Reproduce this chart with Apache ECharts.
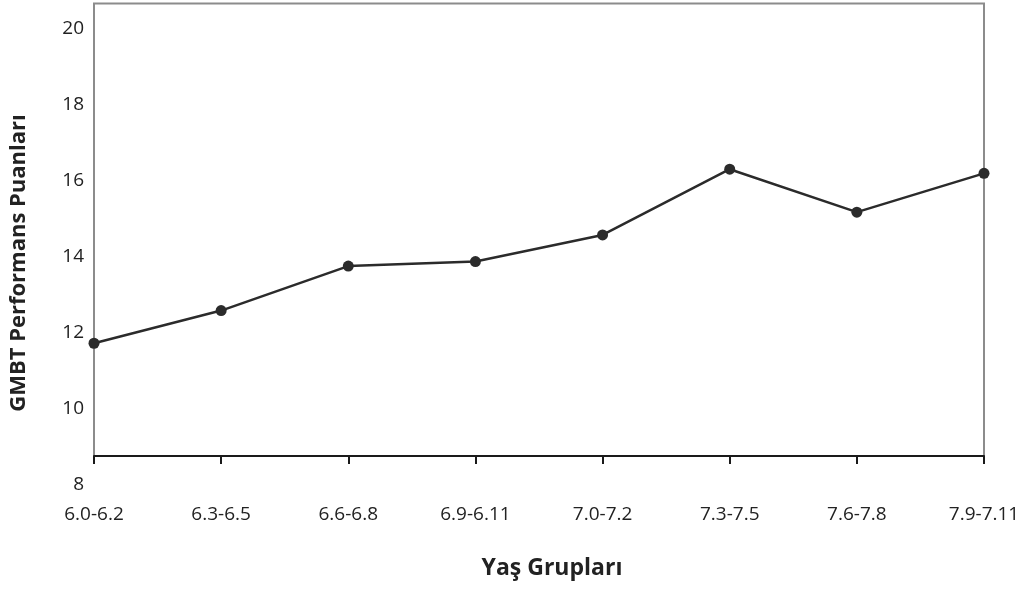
<!DOCTYPE html>
<html>
<head>
<meta charset="utf-8">
<script src="https://cdn.jsdelivr.net/npm/echarts@6/dist/echarts.min.js"></script>
<style>
html,body{margin:0;padding:0;background:#fff;}
#chart{width:1020px;height:589px;}
</style>
</head>
<body>
<div id="chart"></div>
<script>
const categories = ['6.0-6.2','6.3-6.5','6.6-6.8','6.9-6.11','7.0-7.2','7.3-7.5','7.6-7.8','7.9-7.11'];
const scores = [11.73, 12.59, 13.76, 13.88, 14.58, 16.31, 15.18, 16.20];
const yTitle = 'GMBT Performans Puanları';
const xTitle = 'Yaş Grupları';
const yMin = 8, yMax = 20.67, yStep = 2;

const FONT = '"Open Sans", "DejaVu Sans", sans-serif';
const chart = echarts.init(document.getElementById('chart'));
chart.setOption({
  animation: false,
  backgroundColor: '#ffffff',
  grid: [
    {left: 94, right: 36, top: 3.5, bottom: 104, show: false, containLabel: false, outerBoundsMode: 'none'},
    {left: 94, right: 36, top: 3.5, bottom: 133, show: true, borderColor: '#8c8c8c', borderWidth: 2,
     backgroundColor: 'transparent', containLabel: false, outerBoundsMode: 'none'}
  ],
  xAxis: [
    {type: 'category', gridIndex: 0, data: categories, boundaryGap: false, show: false},
    {type: 'category', gridIndex: 1, data: categories, boundaryGap: false,
     axisLine: {show: true, lineStyle: {color: '#1a1a1a', width: 2}},
     axisTick: {show: true, length: 8, lineStyle: {color: '#1a1a1a', width: 2}},
     axisLabel: {margin: 49, fontSize: 19, color: '#222', fontFamily: FONT, interval: 0},
     splitLine: {show: false}}
  ],
  yAxis: [
    {type: 'value', gridIndex: 0, min: yMin, max: yMax, interval: yStep,
     axisLine: {show: false}, axisTick: {show: false}, splitLine: {show: false},
     axisLabel: {margin: 10, fontSize: 19, color: '#222', fontFamily: FONT,
       formatter: v => (Math.abs(v % yStep) < 1e-6 ? String(v) : '')}},
    {type: 'value', gridIndex: 1, min: 0, max: 1, show: false}
  ],
  graphic: [
    {type: 'text', x: 552, y: 568,
     style: {text: xTitle, font: 'bold 23px ' + FONT, fill: '#222', align: 'center', verticalAlign: 'middle'}},
    {type: 'text', x: 19, y: 263, rotation: Math.PI / 2,
     style: {text: yTitle, font: 'bold 22px ' + FONT, fill: '#222', align: 'center', verticalAlign: 'middle'}}
  ],
  series: [{
    type: 'line', xAxisIndex: 0, yAxisIndex: 0, data: scores,
    symbol: 'circle', symbolSize: 11,
    lineStyle: {color: '#2b2b2b', width: 2.5},
    itemStyle: {color: '#2b2b2b'},
    z: 5
  }]
});
</script>
</body>
</html>
